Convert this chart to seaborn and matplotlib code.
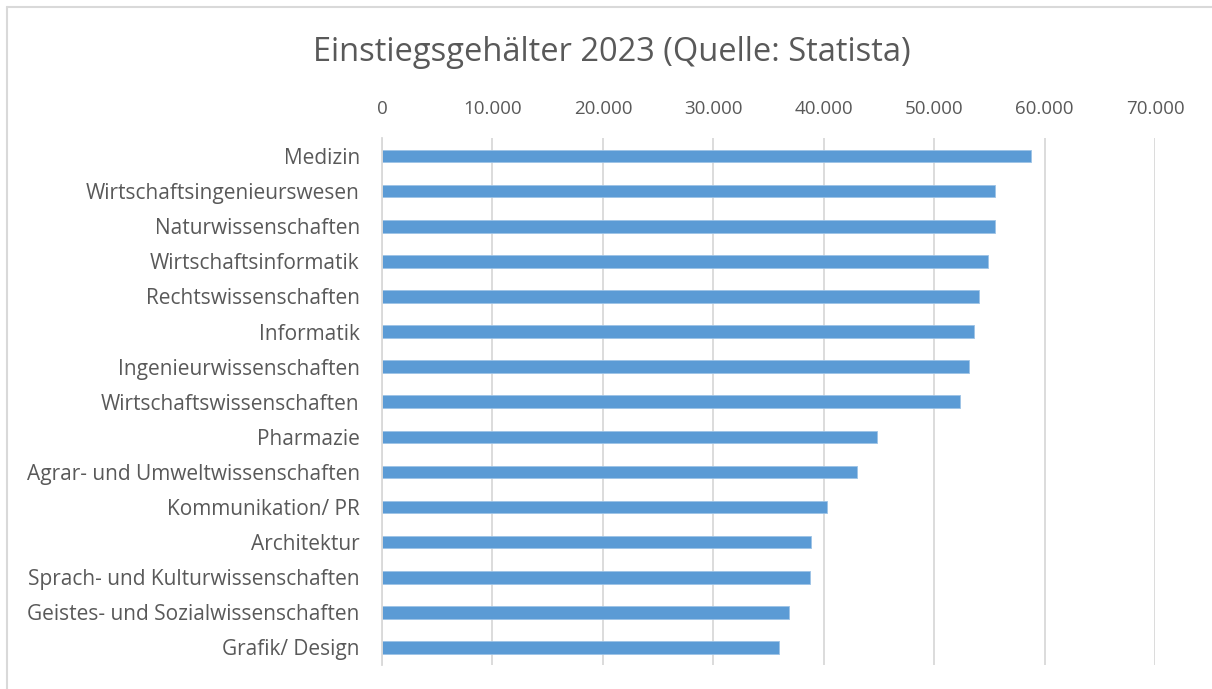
import matplotlib
matplotlib.use("Agg")
import matplotlib.pyplot as plt
import matplotlib.ticker as mticker
from matplotlib.lines import Line2D
import seaborn as sns
import pandas as pd

# ── DATA ────────────────────────────────────────────────
faecher = [
    "Medizin",
    "Wirtschaftsingenieurswesen",
    "Naturwissenschaften",
    "Wirtschaftsinformatik",
    "Rechtswissenschaften",
    "Informatik",
    "Ingenieurwissenschaften",
    "Wirtschaftswissenschaften",
    "Pharmazie",
    "Agrar- und Umweltwissenschaften",
    "Kommunikation/ PR",
    "Architektur",
    "Sprach- und Kulturwissenschaften",
    "Geistes- und Sozialwissenschaften",
    "Grafik/ Design",
]
gehalt = [58800, 55500, 55500, 54850, 54100, 53600, 53130, 52370,
          44850, 43000, 40320, 38830, 38800, 36870, 35960]
x_ticks = [0, 10000, 20000, 30000, 40000, 50000, 60000, 70000]

df = pd.DataFrame({"Fach": faecher, "Gehalt": gehalt})

# ── STYLE ───────────────────────────────────────────────
sns.set_theme(style="white")
plt.rcParams["font.family"] = ["Open Sans", "DejaVu Sans"]
text_col = "#595959"
grid_col = "#D9D9D9"
bar_col = "#5B9BD5"

fig = plt.figure(figsize=(12.12, 6.89), dpi=100)
ax = fig.add_axes([0.3152, 0.0349, 0.6378, 0.7641])

sns.barplot(data=df, x="Gehalt", y="Fach", color=bar_col, width=0.36,
            saturation=1, ax=ax, edgecolor="#9DC3E6", linewidth=0.6)

ax.set_xlim(0, 70000)
ax.set_xticks(x_ticks)
ax.xaxis.set_major_formatter(
    mticker.FuncFormatter(lambda v, p: f"{int(v):,}".replace(",", ".")))
ax.xaxis.tick_top()
ax.tick_params(axis="x", length=0, pad=15, labelsize=13.5, labelcolor=text_col)
ax.tick_params(axis="y", length=0, pad=16, labelsize=15, labelcolor=text_col)
ax.set_xlabel("")
ax.set_ylabel("")

ax.grid(axis="x", color=grid_col, linewidth=1.3)
ax.set_axisbelow(True)
for side in ["top", "right", "bottom"]:
    ax.spines[side].set_visible(False)
ax.spines["left"].set_color(grid_col)
ax.spines["left"].set_linewidth(1.3)

fig.suptitle("Einstiegsgehälter 2023 (Quelle: Statista)", x=0.505, y=0.948,
             fontsize=23.5, color=text_col)

# light chart frame (left and top edge)
fig.add_artist(Line2D([7 / 1212, 7 / 1212], [0, 1 - 7 / 689],
                      transform=fig.transFigure, color=grid_col, linewidth=1.5))
fig.add_artist(Line2D([7 / 1212, 1], [1 - 7 / 689, 1 - 7 / 689],
                      transform=fig.transFigure, color=grid_col, linewidth=1.5))

plt.savefig("out.png", dpi=100)
